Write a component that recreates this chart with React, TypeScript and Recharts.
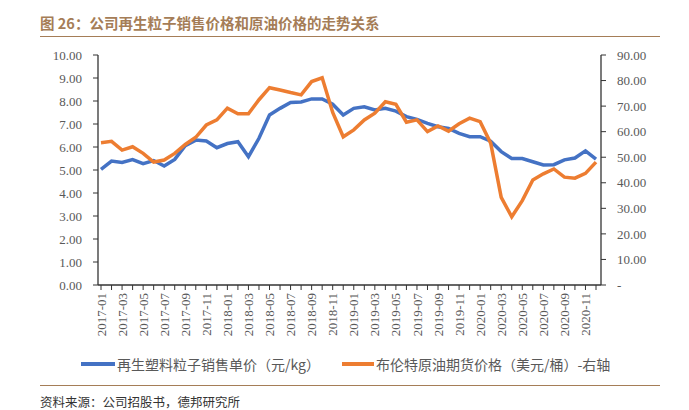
import { LineChart, Line, XAxis, YAxis } from "recharts";

const months = [
  "2017-01", "2017-02", "2017-03", "2017-04", "2017-05", "2017-06",
  "2017-07", "2017-08", "2017-09", "2017-10", "2017-11", "2017-12",
  "2018-01", "2018-02", "2018-03", "2018-04", "2018-05", "2018-06",
  "2018-07", "2018-08", "2018-09", "2018-10", "2018-11", "2018-12",
  "2019-01", "2019-02", "2019-03", "2019-04", "2019-05", "2019-06",
  "2019-07", "2019-08", "2019-09", "2019-10", "2019-11", "2019-12",
  "2020-01", "2020-02", "2020-03", "2020-04", "2020-05", "2020-06",
  "2020-07", "2020-08", "2020-09", "2020-10", "2020-11", "2020-12",
];

// 再生塑料粒子销售单价（元/kg）- left axis
const salePrice = [
  5.03, 5.39, 5.33, 5.45, 5.28, 5.41, 5.17, 5.46, 6.06, 6.3, 6.26, 5.97,
  6.15, 6.23, 5.58, 6.38, 7.39, 7.68, 7.94, 7.96, 8.09, 8.09, 7.86, 7.39,
  7.68, 7.75, 7.61, 7.68, 7.56, 7.32, 7.2, 7.03, 6.88, 6.81, 6.59, 6.45,
  6.45, 6.25, 5.8, 5.5, 5.5, 5.36, 5.22, 5.23, 5.44, 5.52, 5.83, 5.47,
];

// 布伦特原油期货价格（美元/桶）- right axis
const brentPrice = [
  55.7, 56.2, 52.8, 54.1, 51.5, 48.1, 48.9, 51.5, 55.0, 57.8, 62.6, 64.6,
  69.2, 67.0, 67.0, 72.5, 77.2, 76.3, 75.3, 74.4, 79.6, 81.1, 67.5, 58.0,
  60.7, 64.6, 67.2, 71.7, 70.7, 63.7, 64.6, 60.0, 62.2, 60.2, 63.1, 65.3,
  63.9, 55.5, 34.3, 26.7, 33.0, 41.1, 43.5, 45.4, 42.2, 41.8, 43.7, 48.1,
];

const leftTicks = [0, 1, 2, 3, 4, 5, 6, 7, 8, 9, 10];
const rightTicks = [0, 10, 20, 30, 40, 50, 60, 70, 80, 90];

const data = months.map((m, i) => ({
  month: m,
  sale: salePrice[i],
  brent: brentPrice[i],
}));

const serif = "'Liberation Serif', 'Times New Roman', serif";
const cjk = "'Noto Sans CJK SC', sans-serif";
const tickColor = "#595959";
const axisColor = "#333333";
const brown = "#a57d57";

const MonthTick = (props: any) => {
  const { x, y, payload, index } = props;
  if (index % 2 !== 0) return <g />;
  return (
    <g transform={`translate(${x},${y})`}>
      <text
        transform="rotate(-90)"
        textAnchor="end"
        dy="0.35em"
        fill={tickColor}
        fontSize={13}
        fontFamily={serif}
      >
        {payload.value}
      </text>
    </g>
  );
};

export default function App() {
  return (
    <div
      style={{
        position: "absolute",
        left: 0,
        top: 0,
        width: 689,
        height: 410,
        background: "#fff",
        fontFamily: cjk,
      }}
    >
      <div
        style={{
          position: "absolute",
          left: 40,
          top: 12,
          fontSize: 14.5,
          fontWeight: "bold",
          color: brown,
          whiteSpace: "nowrap",
        }}
      >
        图 26：公司再生粒子销售价格和原油价格的走势关系
      </div>
      <div
        style={{
          position: "absolute",
          left: 40,
          top: 36,
          width: 620,
          height: 1,
          background: brown,
        }}
      />

      <LineChart
        width={689}
        height={410}
        data={data}
        margin={{ top: 55, right: 0, left: 0, bottom: 65 }}
        style={{ position: "absolute", left: 0, top: 0 }}
      >
        <XAxis
          dataKey="month"
          scale="point"
          padding={{ left: 3, right: 5 }}
          interval={0}
          height={60}
          tick={<MonthTick />}
          tickSize={5}
          tickMargin={3}
          axisLine={{ stroke: axisColor, strokeWidth: 1.3 }}
          tickLine={{ stroke: axisColor, strokeWidth: 1 }}
        />
        <YAxis
          yAxisId="left"
          orientation="left"
          width={98}
          domain={[0, 10]}
          ticks={leftTicks}
          interval={0}
          tickFormatter={(v: number) => v.toFixed(2)}
          tick={{ fill: tickColor, fontSize: 13, fontFamily: serif }}
          tickSize={5}
          tickMargin={11}
          axisLine={{ stroke: axisColor, strokeWidth: 1.3 }}
          tickLine={{ stroke: axisColor, strokeWidth: 1 }}
        />
        <YAxis
          yAxisId="right"
          orientation="right"
          width={88}
          domain={[0, 90]}
          ticks={rightTicks}
          interval={0}
          tickFormatter={(v: number) => (v === 0 ? "-" : v.toFixed(2))}
          tick={{ fill: tickColor, fontSize: 13, fontFamily: serif }}
          tickSize={5}
          tickMargin={11}
          axisLine={{ stroke: axisColor, strokeWidth: 1.3 }}
          tickLine={{ stroke: axisColor, strokeWidth: 1 }}
        />
        <Line
          yAxisId="left"
          type="linear"
          dataKey="sale"
          stroke="#4472c4"
          strokeWidth={3.5}
          dot={false}
          isAnimationActive={false}
        />
        <Line
          yAxisId="right"
          type="linear"
          dataKey="brent"
          stroke="#ed7d31"
          strokeWidth={3.5}
          dot={false}
          isAnimationActive={false}
        />
      </LineChart>

      <div
        style={{
          position: "absolute",
          left: 81,
          top: 354,
          display: "flex",
          alignItems: "center",
          fontSize: 14,
          color: tickColor,
          whiteSpace: "nowrap",
        }}
      >
        <span style={{ width: 34, height: 4, background: "#4472c4", marginRight: 2 }} />
        <span>再生塑料粒子销售单价（元/kg）</span>
        <span
          style={{
            width: 32,
            height: 4,
            background: "#ed7d31",
            marginLeft: 22,
            marginRight: 2,
          }}
        />
        <span>布伦特原油期货价格（美元/桶）-右轴</span>
      </div>

      <div
        style={{
          position: "absolute",
          left: 40,
          top: 385,
          width: 620,
          height: 1,
          background: brown,
        }}
      />
      <div
        style={{
          position: "absolute",
          left: 40,
          top: 392,
          fontSize: 12.5,
          color: "#333",
          whiteSpace: "nowrap",
        }}
      >
        资料来源：公司招股书，德邦研究所
      </div>
    </div>
  );
}
